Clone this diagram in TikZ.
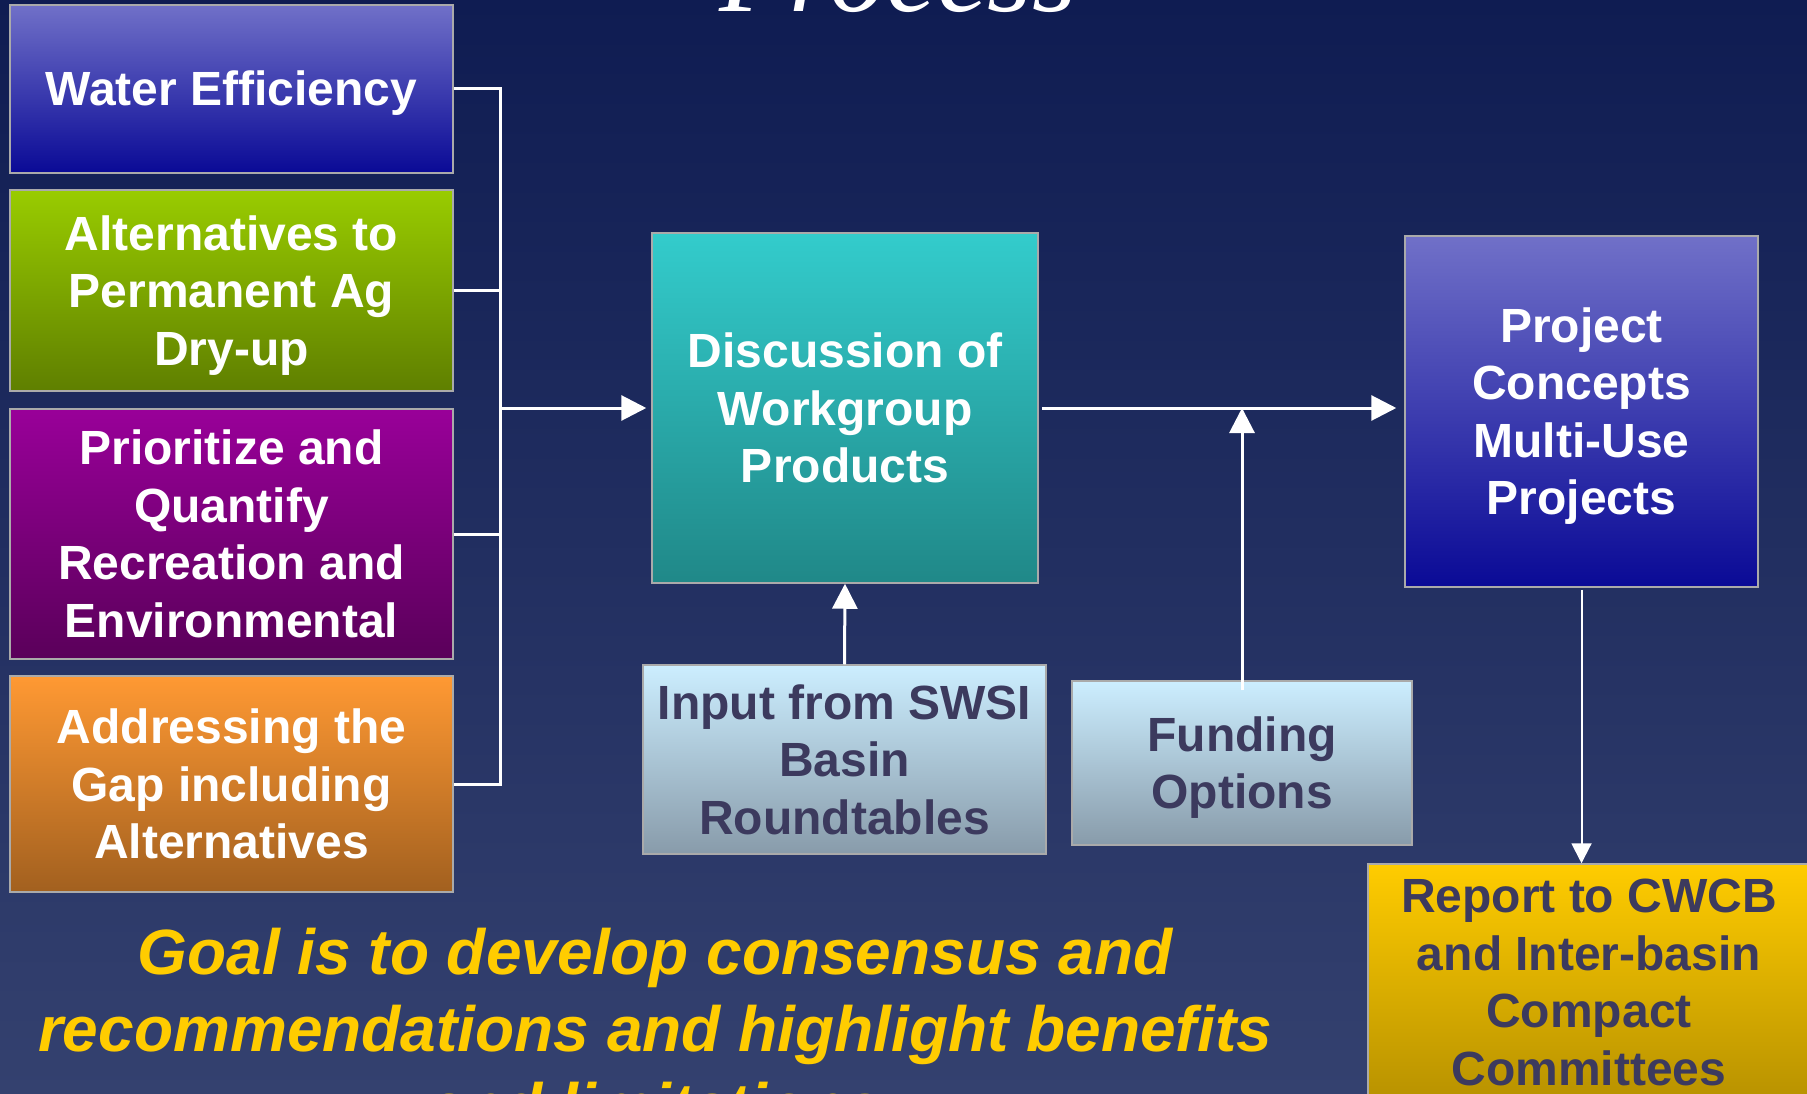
\documentclass[tikz,border=0pt]{standalone}
\usepackage{fontspec}
\setmainfont{Liberation Sans}
\newfontfamily\titlefont{Liberation Serif}
\usetikzlibrary{arrows.meta}
\definecolor{bgtop}{HTML}{0F1C52}
\definecolor{bgbot}{HTML}{34416F}
\definecolor{bordergray}{HTML}{AAAAAA}
\definecolor{bluetop}{HTML}{7070C8}
\definecolor{bluebot}{HTML}{0A0A96}
\definecolor{greentop}{HTML}{99CC00}
\definecolor{greenbot}{HTML}{5F7F00}
\definecolor{purptop}{HTML}{990099}
\definecolor{purpbot}{HTML}{5A005A}
\definecolor{orangetop}{HTML}{FF9933}
\definecolor{orangebot}{HTML}{A2601F}
\definecolor{tealtop}{HTML}{33CCCC}
\definecolor{tealbot}{HTML}{208888}
\definecolor{lighttop}{HTML}{CCEEFF}
\definecolor{lightbot}{HTML}{889BAA}
\definecolor{goldtop}{HTML}{FFCC00}
\definecolor{goldbot}{HTML}{B89200}
\definecolor{darktext}{HTML}{3C3A5E}
\definecolor{goalyellow}{HTML}{FFCC00}
\newcommand\tstrut{\rule[-10pt]{0pt}{54pt}}
\begin{document}
\begin{tikzpicture}[x=1pt,y=-1pt,
  box/.style={draw=bordergray, line width=1.5pt, inner sep=0pt, align=center,
    font=\fontsize{48}{57.5}\selectfont\bfseries, text=white},
  darkbox/.style={box, text=darktext},
  goal/.style={anchor=base, text=goalyellow, inner sep=0pt,
    font=\fontsize{64}{77}\selectfont\bfseries\itshape},
  wire/.style={draw=white, line width=3pt},
  thinwire/.style={draw=white, line width=2pt},
  arr/.style={-{Triangle[width=25pt,length=25pt]}},
  arrsmall/.style={-{Triangle[width=20pt,length=20pt]}}]
\useasboundingbox (0,0) rectangle (1807,1094);
\clip (0,0) rectangle (1807,1094);
\shade[top color=bgtop, bottom color=bgbot] (0,0) rectangle (1807,1094);

% title (cut off at top)
\node[anchor=base, inner sep=0pt, text=white,
  font=\titlefont\itshape\fontsize{114}{114}\selectfont] (title) at (898,12) {Process};

% left column
\node[box, top color=bluetop, bottom color=bluebot, minimum width=443pt, minimum height=168pt]
  (we) at (231.5,89) {\tstrut Water Efficiency};
\node[box, top color=greentop, bottom color=greenbot, minimum width=443pt, minimum height=201pt]
  (alt) at (231.5,290.5) {\tstrut Alternatives to\\Permanent Ag\\\tstrut Dry-up};
\node[box, top color=purptop, bottom color=purpbot, minimum width=443pt, minimum height=250pt]
  (prior) at (231.5,534) {\tstrut Prioritize and\\Quantify\\Recreation and\\\tstrut Environmental};
\node[box, top color=orangetop, bottom color=orangebot, minimum width=443pt, minimum height=216pt]
  (addr) at (231.5,784) {\tstrut Addressing the\\Gap including\\\tstrut Alternatives};

% middle
\node[box, top color=tealtop, bottom color=tealbot, minimum width=386pt, minimum height=350pt]
  (disc) at (845,408) {\tstrut Discussion of\\Workgroup\\\tstrut Products};
\node[darkbox, top color=lighttop, bottom color=lightbot, minimum width=403pt, minimum height=189pt]
  (inp) at (844.5,759.5) {\tstrut Input from SWSI\\Basin\\\tstrut Roundtables};
\node[darkbox, top color=lighttop, bottom color=lightbot, minimum width=340pt, minimum height=164pt]
  (fund) at (1242,763) {\tstrut Funding\\\tstrut Options};

% right
\node[box, top color=bluetop, bottom color=bluebot, minimum width=353pt, minimum height=351pt]
  (proj) at (1581.5,411.5) {\tstrut Project\\Concepts\\Multi-Use\\\tstrut Projects};
\node[darkbox, top color=goldtop, bottom color=goldbot, minimum width=442pt, minimum height=236pt]
  (rep) at (1589,982) {\tstrut Report to CWCB\\and Inter-basin\\Compact\\\tstrut Committees};

% bus connectors
\coordinate (bt) at (500,89);
\draw[wire, line join=miter] (we.east) -| (addr.east -| bt) -- (addr.east);
\draw[wire] (alt.east) -- (alt.east -| bt);
\draw[wire] (prior.east) -- (prior.east -| bt);
\draw[wire, arr] (disc.west -| bt) -- ([xshift=-5pt]disc.west);

% main flow
\draw[wire, arr] ([xshift=3pt]disc.east) -- ([xshift=-8pt]disc.east -| proj.west);
\draw[wire, arr] (inp.north) -- (disc.south);
\draw[wire, arr] ([yshift=-10pt]fund.north) -- (fund.north |- disc.east);
\draw[thinwire, arrsmall] ([yshift=-2pt]proj.south) -- (proj.south |- rep.north);

% goal text
\node[goal] (g1) at (655,974) {Goal is to develop consensus and};
\node[goal] (g2) at (655,1051) {recommendations and highlight benefits};
\node[goal] (g3) at (655,1128) {and limitations};
\end{tikzpicture}
\end{document}
